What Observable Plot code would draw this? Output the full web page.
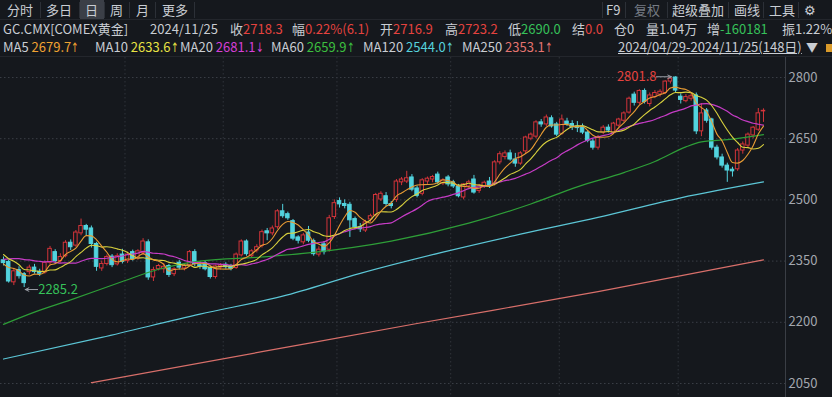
<!DOCTYPE html>
<html><head><meta charset="utf-8">
<script src="https://cdn.jsdelivr.net/npm/d3@7"></script>
<script src="https://cdn.jsdelivr.net/npm/@observablehq/plot@0.6"></script>
<style>
html,body{margin:0;padding:0;background:#15181d;width:832px;height:397px;overflow:hidden;font-family:"Noto Sans CJK SC","Noto Sans",sans-serif;}
#wrap{position:relative;width:832px;height:397px;}
.t{position:absolute;white-space:nowrap;font-size:13px;line-height:18px;color:#c9cdd3;}
.r1{top:1px}.r2{top:20px}.r3{top:38px}
.red{color:#e5433f}.grn{color:#36c25a}.dim{color:#767b83}
.ar{font-family:"DejaVu Sans",sans-serif;font-size:13px;display:inline-block;width:6px;overflow:visible;transform:scaleX(0.7);transform-origin:left}
.sep{position:absolute;top:2px;width:1px;height:16px;background:#2c3037}
#chart{position:absolute;left:0;top:57px}
</style></head>
<body><div id="wrap">
<div class="sep" style="left:40px"></div><div class="sep" style="left:79px"></div><div class="sep" style="left:104px"></div><div class="sep" style="left:129px"></div><div class="sep" style="left:155px"></div><div class="sep" style="left:194px"></div>
<div style="position:absolute;left:80px;top:0;width:24px;height:19px;background:#3b3f47"></div>
<span class="t r1" style="left:7px">分时</span>
<span class="t r1" style="left:46px">多日</span>
<span class="t r1" style="left:85px">日</span>
<span class="t r1" style="left:110px">周</span>
<span class="t r1" style="left:136px">月</span>
<span class="t r1" style="left:162px">更多</span>
<div class="sep" style="left:602px"></div><div class="sep" style="left:625px"></div><div class="sep" style="left:667px"></div><div class="sep" style="left:728px"></div><div class="sep" style="left:763px"></div><div class="sep" style="left:798px"></div>
<span class="t r1" style="left:606px">F9</span>
<span class="t r1 dim" style="left:634px">复权</span>
<span class="t r1" style="left:672px">超级叠加</span>
<span class="t r1" style="left:734px">画线</span>
<span class="t r1" style="left:769px">工具</span>
<span class="t r1" style="left:804px">⚙</span>
<div style="position:absolute;left:0;top:19px;width:832px;height:1px;background:#23262c"></div>

<span class="t r2" style="left:3px">GC.CMX[COMEX黄金]</span>
<span class="t r2" style="left:150px">2024/11/25</span>
<span class="t r2" style="left:230px">收<span class="red">2718.3</span></span>
<span class="t r2" style="left:292px">幅<span class="red">0.22%(6.1)</span></span>
<span class="t r2" style="left:380px">开<span class="red">2716.9</span></span>
<span class="t r2" style="left:445px">高<span class="red">2723.2</span></span>
<span class="t r2" style="left:508px">低<span class="grn">2690.0</span></span>
<span class="t r2" style="left:572px">结<span class="red">0.0</span></span>
<span class="t r2" style="left:614px">仓0</span>
<span class="t r2" style="left:646px">量1.04万</span>
<span class="t r2" style="left:707px">增<span class="grn">-160181</span></span>
<span class="t r2" style="left:782px">振1.22%</span>

<span class="t r3" style="left:3px">MA5 <span style="color:#f0a232">2679.7<span class="ar">↑</span></span></span>
<span class="t r3" style="left:95px">MA10 <span style="color:#e8e244">2633.6<span class="ar">↑</span></span></span>
<span class="t r3" style="left:180px">MA20 <span style="color:#d63fd6">2681.1<span class="ar">↓</span></span></span>
<span class="t r3" style="left:271px">MA60 <span style="color:#3cbf3f">2659.9<span class="ar">↑</span></span></span>
<span class="t r3" style="left:363px">MA120 <span style="color:#56d2dc">2544.0<span class="ar">↑</span></span></span>
<span class="t r3" style="left:462px">MA250 <span style="color:#e47470">2353.1<span class="ar">↑</span></span></span>
<span class="t r3" style="left:618px;text-decoration:underline">2024/04/29-2024/11/25(148日)</span>
<span class="t r3" style="left:806px;font-size:12px">▼</span>
<div style="position:absolute;left:826px;top:44px;width:6px;height:8px;background:#d99a2a"></div>
<div style="position:absolute;left:0;top:56px;width:832px;height:1px;background:#23262c"></div>
<div id="chart"></div>
</div>
<script>
// ---- data ----
const opens  = [2352,2348,2298,2328,2318,2323,2334,2324,2322,2346,2372,2350,2362,2395,2388,2418,2436,2430,2392,2332,2343,2361,2342,2366,2350,2372,2356,2370,2396,2310,2330,2330,2338,2318,2346,2332,2340,2372,2340,2345,2333,2311,2334,2341,2338,2333,2364,2398,2362,2376,2387,2423,2418,2433,2472,2465,2448,2408,2396,2420,2399,2366,2391,2378,2458,2497,2490,2488,2453,2433,2425,2452,2462,2501,2509,2490,2500,2543,2545,2555,2528,2515,2545,2550,2562,2540,2555,2543,2533,2506,2533,2550,2522,2533,2545,2538,2592,2605,2614,2599,2589,2619,2650,2655,2690,2685,2700,2685,2662,2692,2686,2680,2680,2665,2643,2628,2665,2677,2665,2682,2694,2714,2758,2738,2767,2735,2752,2758,2762,2790,2800,2753,2742,2748,2756,2668,2719,2697,2628,2604,2584,2574,2575,2621,2633,2658,2672,2716.9];
const highs  = [2360,2352,2332,2336,2322,2340,2342,2330,2350,2386,2378,2368,2400,2402,2425,2453,2440,2436,2396,2350,2365,2366,2368,2379,2372,2377,2378,2405,2402,2335,2342,2344,2342,2334,2352,2342,2376,2378,2348,2350,2337,2340,2344,2346,2342,2370,2402,2402,2378,2390,2426,2430,2436,2476,2489,2470,2452,2412,2418,2435,2404,2385,2398,2462,2500,2505,2500,2494,2458,2442,2450,2465,2516,2520,2518,2496,2550,2555,2570,2562,2534,2552,2556,2560,2568,2552,2560,2548,2538,2540,2548,2560,2538,2546,2555,2596,2618,2620,2622,2614,2618,2656,2664,2694,2697,2708,2706,2690,2708,2700,2694,2692,2686,2668,2648,2658,2682,2684,2690,2700,2716,2752,2764,2770,2772,2762,2768,2770,2792,2800,2801.8,2760,2758,2760,2762,2736,2724,2700,2634,2612,2590,2580,2626,2642,2664,2680,2724,2723.2];
const lows   = [2338,2296,2290,2306,2285.2,2316,2318,2312,2318,2340,2342,2345,2358,2376,2384,2412,2412,2382,2325,2325,2338,2334,2338,2343,2344,2350,2352,2364,2303,2300,2326,2320,2310,2312,2328,2326,2336,2336,2330,2326,2306,2306,2328,2330,2326,2330,2360,2362,2358,2370,2382,2400,2412,2428,2455,2450,2400,2392,2390,2395,2362,2360,2365,2372,2452,2480,2478,2408,2428,2420,2420,2445,2458,2496,2484,2478,2494,2535,2540,2520,2505,2510,2538,2542,2538,2535,2532,2528,2505,2500,2528,2514,2516,2528,2528,2534,2586,2598,2595,2580,2585,2612,2645,2650,2678,2680,2676,2655,2658,2680,2670,2665,2660,2640,2622,2622,2660,2664,2660,2678,2690,2710,2730,2733,2735,2728,2748,2752,2758,2784,2762,2735,2738,2742,2660,2655,2688,2622,2598,2578,2543,2556,2570,2612,2628,2650,2668,2690.0];
const closes = [2345,2300,2325,2313,2296,2334,2323,2319,2346,2380,2350,2360,2395,2384,2420,2436,2427,2392,2336,2343,2360,2340,2362,2348,2366,2355,2374,2398,2310,2328,2338,2336,2316,2330,2334,2338,2372,2343,2337,2330,2311,2337,2339,2335,2331,2366,2398,2367,2374,2384,2421,2418,2430,2472,2460,2455,2405,2400,2413,2400,2367,2378,2372,2455,2492,2489,2485,2450,2433,2428,2445,2460,2512,2515,2490,2485,2545,2550,2553,2525,2510,2548,2552,2556,2543,2548,2538,2533,2509,2538,2543,2518,2535,2542,2533,2592,2612,2614,2599,2589,2614,2653,2660,2690,2685,2702,2680,2660,2697,2686,2678,2676,2665,2645,2628,2653,2677,2670,2687,2697,2712,2748,2738,2767,2740,2756,2762,2765,2790,2797,2768,2745,2752,2754,2668,2712,2694,2628,2604,2584,2572,2570,2621,2636,2660,2677,2712.2,2718.3];
// closes before the window (April 2024, estimated), only to start the short averages
const priorCloses = [2281,2315,2308,2345,2351,2364,2348,2372,2360,2383,2402,2388,2398,2413,2346,2342,2338,2342,2347];
// long averages: [candle index, value]
const ma60Pts  = [[0,2195],[6,2225],[13,2255],[23,2300],[30,2330],[38,2350],[50,2360],[59,2370],[75,2399],[90,2443],[102,2490],[111,2532],[120,2567],[126,2594],[132,2630],[135,2642],[141,2649],[147,2659.9]];
const ma120Pts = [[0,2110],[19,2163],[38,2220],[54,2264],[69,2320],[85,2372],[100,2416],[115,2457],[131,2505],[147,2544.0]];
const ma250Pts = [[17,2052],[50,2128],[80,2197],[115,2275],[147,2353.1]];
const yTicks = [2050,2200,2350,2500,2650,2800];
const monthStarts = [24,43,65,87,108,131];
const peak = {i:130, v:2801.8};
const trough = {i:4, v:2285.2};

// ---- build ----
const rows = opens.map((o,i)=>({i,o,h:highs[i],l:lows[i],c:closes[i],up:closes[i]>=o}));
const all = priorCloses.concat(closes);
const P = priorCloses.length;
function ma(k){
  return closes.map((_,i)=>{
    const end=P+i, start=Math.max(0,end-k+1);
    let s=0; for(let j=start;j<=end;j++) s+=all[j];
    return {i, v:s/(end-start+1)};
  });
}
const pts = a => a.map(([i,v])=>({i,v}));
const RED="#d3343a", CYAN="#52d3de", BG="#15181d";
const xMax = 151.26;
const chart = Plot.plot({
  width:832, height:340,
  marginLeft:0, marginRight:47, marginTop:0, marginBottom:0,
  style:{background:"transparent", color:"#a0a4ab", fontFamily:'"Noto Sans CJK SC","Noto Sans",sans-serif', fontSize:"13px"},
  x:{domain:[-0.58, xMax], axis:null},
  y:{domain:[2015.7, 2849], axis:null},
  marks:[
    Plot.gridY(yTicks,{stroke:"#3a3e46", strokeOpacity:1, strokeDasharray:"1.5,2.5"}),
    Plot.ruleX(monthStarts,{x:d=>d-0.5, stroke:"#30343b", strokeDasharray:"1.5,2.5"}),
    Plot.ruleX([xMax],{stroke:"#3a3e45"}),
    Plot.axisY(yTicks,{anchor:"right", tickSize:0, tickPadding:3, fill:"#a3a7ae", fontSize:13, tickFormat:d=>String(d)}),
    Plot.ruleX(rows,{x:"i", y1:"l", y2:"h", stroke:d=>d.up?RED:CYAN, strokeWidth:1}),
    Plot.rect(rows,{x1:d=>d.i-0.34, x2:d=>d.i+0.34, y1:"o", y2:"c", fill:d=>d.up?BG:CYAN, stroke:d=>d.up?RED:CYAN, strokeWidth:1}),
    Plot.line(pts(ma250Pts),{x:"i", y:"v", stroke:"#d86f6a", strokeWidth:1.2, curve:"monotone-x"}),
    Plot.line(pts(ma120Pts),{x:"i", y:"v", stroke:"#5cc6d6", strokeWidth:1.2, curve:"monotone-x"}),
    Plot.line(pts(ma60Pts),{x:"i", y:"v", stroke:"#2e9e38", strokeWidth:1.2, curve:"monotone-x"}),
    Plot.line(ma(20),{x:"i", y:"v", stroke:"#c63cc6", strokeWidth:1.2, curve:"monotone-x"}),
    Plot.line(ma(10),{x:"i", y:"v", stroke:"#d9d23e", strokeWidth:1.1, curve:"monotone-x"}),
    Plot.line(ma(5),{x:"i", y:"v", stroke:"#e89c34", strokeWidth:1.1, curve:"monotone-x"}),
    Plot.arrow([peak],{x1:d=>d.i-3.7, x2:d=>d.i-0.8, y1:"v", y2:"v", stroke:"#9a9ea6", strokeWidth:1, headLength:6, headAngle:50}),
    Plot.text([peak],{x:"i", y:"v", text:d=>d.v.toFixed(1), dx:-19, textAnchor:"end", fill:"#e5433f", fontSize:13}),
    Plot.arrow([trough],{x1:d=>d.i+2.6, x2:d=>d.i+0.2, y1:"v", y2:"v", dy:2, stroke:"#9a9ea6", strokeWidth:1, headLength:6, headAngle:50}),
    Plot.text([trough],{x:"i", y:"v", text:d=>d.v.toFixed(1), dx:14, dy:2, textAnchor:"start", fill:"#36c25a", fontSize:13})
  ]
});
document.getElementById("chart").appendChild(chart);
</script>
</body></html>
